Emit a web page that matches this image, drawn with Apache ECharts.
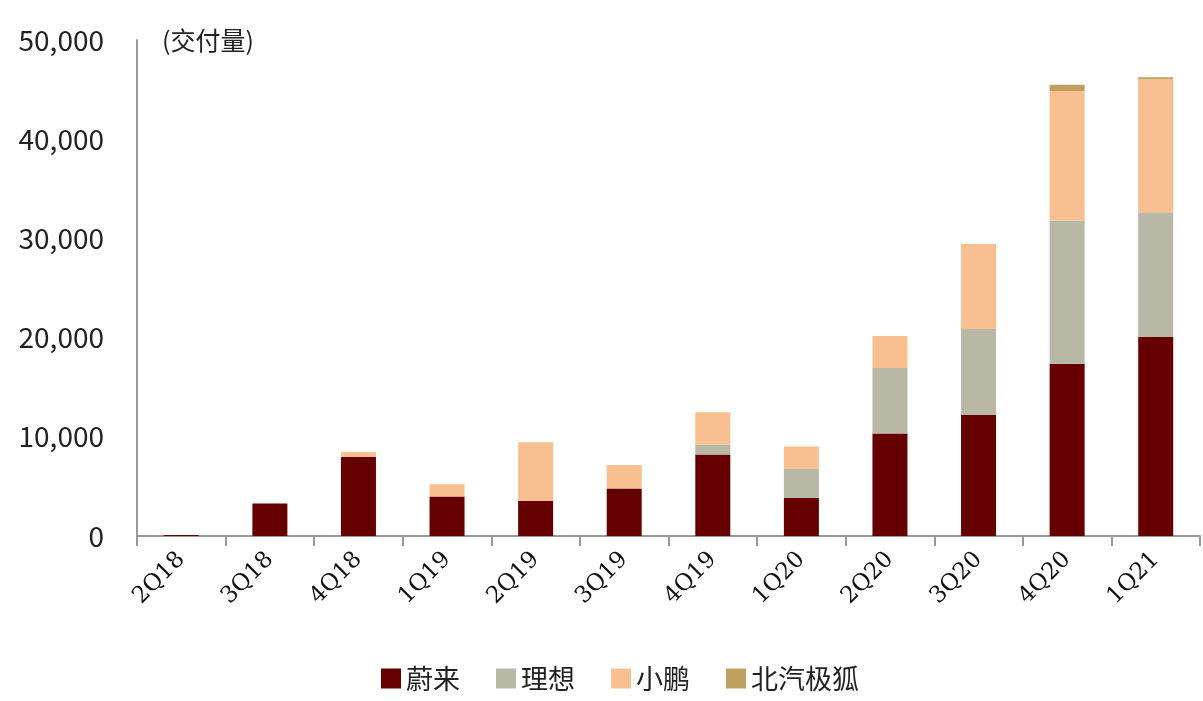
<!DOCTYPE html>
<html><head><meta charset="utf-8">
<script src="https://cdn.jsdelivr.net/npm/echarts@6/dist/echarts.min.js"></script>
<style>html,body{margin:0;padding:0;background:#fff}#c{width:1203px;height:701px}</style>
</head><body><div id="c"></div>
<script>
const categories = ['2Q18','3Q18','4Q18','1Q19','2Q19','3Q19','4Q19','1Q20','2Q20','3Q20','4Q20','1Q21'];
const nio   = [100, 3268, 7980, 3989, 3553, 4799, 8224, 3838, 10331, 12206, 17353, 20060];
const li    = [0, 0, 0, 0, 0, 0, 1000, 2925, 6604, 8660, 14464, 12579];
const xpeng = [0, 0, 500, 1230, 5900, 2350, 3260, 2250, 3228, 8578, 13043, 13400];
const baic  = [0, 0, 0, 0, 0, 0, 0, 0, 0, 0, 640, 200];
const seriesNames = ['蔚来','理想','小鹏','北汽极狐'];
const colors = ['#660000','#B9B8A6','#F8C090','#BFA060'];
const yTicks = [0, 10000, 20000, 30000, 40000, 50000];

const chart = echarts.init(document.getElementById('c'));
const mk = (name, data, i) => ({
  name, type: 'bar', stack: 'total', data, barWidth: 35,
  itemStyle: { color: colors[i] }
});
chart.setOption({
  animation: false,
  textStyle: { fontFamily: '"Noto Sans CJK SC","Noto Sans",sans-serif' },
  grid: { left: 137, right: 3, top: 40, bottom: 165, containLabel: false },
  legend: {
    top: 660, left: 376, itemWidth: 20, itemHeight: 20, itemGap: 36,
    icon: 'rect',
    textStyle: { fontSize: 27, color: '#222', fontFamily: '"Noto Sans CJK SC",sans-serif' },
    data: seriesNames
  },
  graphic: [{ type: 'text', left: 162, top: 28, style: { text: '(交付量)', fontSize: 25, fill: '#222', fontFamily: '"Noto Sans CJK SC",sans-serif' } }],
  xAxis: {
    type: 'category', data: categories, boundaryGap: true,
    axisLine: { lineStyle: { color: '#999', width: 2 } },
    axisTick: { show: true, length: 10, lineStyle: { color: '#999', width: 2 } },
    axisLabel: { rotate: 45, fontSize: 23, color: '#111', margin: 20, fontFamily: '"DejaVu Serif",serif' }
  },
  yAxis: {
    type: 'value', min: 0, max: 50000, interval: 10000,
    axisLine: { show: true, lineStyle: { color: '#999', width: 2 } },
    axisTick: { show: false },
    splitLine: { show: false },
    axisLabel: { fontSize: 28, color: '#222', margin: 33,
      formatter: v => yTicks.includes(v) ? v.toLocaleString('en-US') : '' }
  },
  series: [mk(seriesNames[0], nio, 0), mk(seriesNames[1], li, 1), mk(seriesNames[2], xpeng, 2), mk(seriesNames[3], baic, 3)]
});
</script></body></html>
